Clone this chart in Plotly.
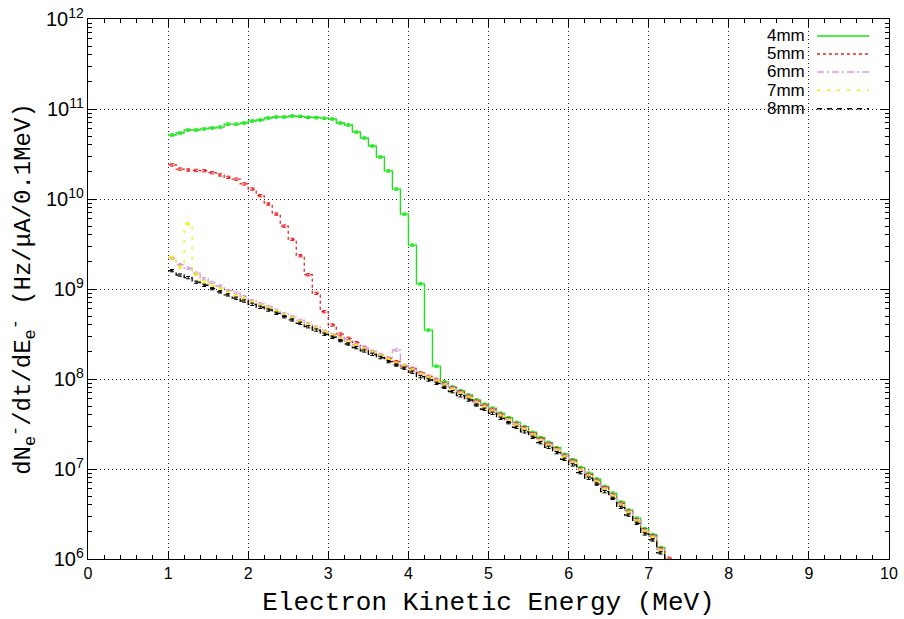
import plotly.graph_objects as go

# bin lower edges (MeV), width 0.1 MeV
bin_edges = [round(1.0 + 0.1 * i, 1) for i in range(64)]

series_names = ["4mm", "5mm", "6mm", "7mm", "8mm"]

y_4mm = [5.14e10, 5.41e10, 5.84e10, 5.84e10, 6.0e10, 6.15e10, 6.3e10, 6.8e10, 6.8e10, 6.99e10,
         7.36e10, 7.55e10, 7.94e10, 8.15e10, 8.15e10, 8.36e10, 8.3e10, 8.1e10, 8.0e10, 7.9e10,
         7.74e10, 6.99e10, 6.64e10, 5.55e10, 4.76e10, 3.88e10, 2.93e10, 2.05e10, 1.29e10, 6.8e9,
         3.08e9, 1.14e9, 3.5e8, 1.39e8, 9.3e7, 8.15e7, 7.4e7, 6.65e7, 5.85e7, 5.25e7,
         4.75e7, 4.17e7, 3.72e7, 3.3e7, 2.95e7, 2.56e7, 2.24e7, 1.98e7, 1.73e7, 1.46e7,
         1.27e7, 1.04e7, 9.0e6, 7.75e6, 6.4e6, 5.4e6, 4.3e6, 3.5e6, 2.85e6, 2.17e6,
         1.86e6, 1.34e6, 9.8e5]

y_5mm = [2.39e10, 2.15e10, 2.10e10, 2.08e10, 2.06e10, 1.96e10, 1.85e10, 1.74e10, 1.66e10, 1.47e10,
         1.29e10, 1.09e10, 8.8e9, 6.8e9, 5.0e9, 3.56e9, 2.34e9, 1.44e9, 8.95e8, 5.6e8,
         3.98e8, 3.16e8, 2.83e8, 2.53e8, 2.25e8, 2.01e8, 1.85e8, 1.70e8, 1.56e8, 1.39e8,
         1.31e8, 1.17e8, 1.07e8, 9.9e7, 8.9e7, 7.95e7, 7.2e7, 6.45e7, 5.68e7, 5.1e7,
         4.6e7, 4.05e7, 3.6e7, 3.2e7, 2.86e7, 2.48e7, 2.17e7, 1.92e7, 1.68e7, 1.42e7,
         1.23e7, 1.0e7, 8.7e6, 7.5e6, 6.2e6, 5.2e6, 4.15e6, 3.4e6, 2.75e6, 2.1e6,
         1.8e6, 1.3e6, 1.02e6]

y_6mm = [2.2e9, 1.87e9, 1.7e9, 1.5e9, 1.3e9, 1.18e9, 1.08e9, 9.6e8, 9.0e8, 8.2e8,
         7.4e8, 6.85e8, 6.35e8, 5.8e8, 5.3e8, 4.9e8, 4.5e8, 4.1e8, 3.78e8, 3.4e8,
         3.13e8, 2.88e8, 2.64e8, 2.4e8, 2.21e8, 2.03e8, 1.87e8, 1.68e8, 2.1e8, 1.42e8,
         1.28e8, 1.14e8, 1.05e8, 9.65e7, 8.7e7, 7.8e7, 7.02e7, 6.3e7, 5.54e7, 4.97e7,
         4.48e7, 3.95e7, 3.52e7, 3.13e7, 2.79e7, 2.42e7, 2.11e7, 1.88e7, 1.64e7, 1.38e7,
         1.2e7, 9.8e6, 8.5e6, 7.3e6, 6.05e6, 5.1e6, 4.05e6, 3.32e6, 2.68e6, 2.05e6,
         1.76e6, 1.26e6, 9.7e5]

y_7mm = [2.25e9, 1.75e9, 5.3e9, 1.45e9, 1.2e9, 1.08e9, 1.0e9, 9.1e8, 8.4e8, 7.8e8,
         7.1e8, 6.6e8, 6.1e8, 5.6e8, 5.15e8, 4.75e8, 4.35e8, 4.0e8, 3.68e8, 3.3e8,
         3.05e8, 2.8e8, 2.57e8, 2.34e8, 2.15e8, 1.97e8, 1.82e8, 1.64e8, 1.5e8, 1.39e8,
         1.25e8, 1.12e8, 1.03e8, 9.4e7, 8.5e7, 7.6e7, 6.85e7, 6.15e7, 5.4e7, 4.85e7,
         4.38e7, 3.85e7, 3.44e7, 3.05e7, 2.72e7, 2.37e7, 2.06e7, 1.83e7, 1.6e7, 1.35e7,
         1.17e7, 9.6e6, 8.3e6, 7.15e6, 5.9e6, 4.95e6, 3.95e6, 3.25e6, 2.62e6, 2.0e6,
         1.72e6, 1.23e6, 9.5e5]

y_8mm = [1.60e9, 1.43e9, 1.34e9, 1.19e9, 1.10e9, 1.01e9, 9.3e8, 8.6e8, 7.9e8, 7.36e8,
         6.76e8, 6.27e8, 5.84e8, 5.37e8, 4.92e8, 4.53e8, 4.16e8, 3.81e8, 3.50e8, 3.14e8,
         2.91e8, 2.67e8, 2.45e8, 2.23e8, 2.05e8, 1.88e8, 1.73e8, 1.56e8, 1.43e8, 1.32e8,
         1.19e8, 1.06e8, 9.75e7, 8.96e7, 8.09e7, 7.23e7, 6.52e7, 5.84e7, 5.14e7, 4.61e7,
         4.16e7, 3.66e7, 3.27e7, 2.90e7, 2.59e7, 2.25e7, 1.96e7, 1.74e7, 1.52e7, 1.28e7,
         1.11e7, 9.1e6, 7.9e6, 6.8e6, 5.6e6, 4.72e6, 3.75e6, 3.08e6, 2.49e6, 1.90e6,
         1.63e6, 1.17e6, 9.0e5]

series_values = [y_4mm, y_5mm, y_6mm, y_7mm, y_8mm]
colors = ["#14e614", "#f02020", "#dd99dd", "#f0f000", "#000000"]
dashes = ["solid", "3px,3px", "7px,3px,2px,3px", "3px,7px", "5px,5px"]

fig = go.Figure()
for name, vals, col, dash in zip(series_names, series_values, colors, dashes):
    n = len(vals)
    xs = bin_edges[: n + 1]
    ys = list(vals) + [vals[-1]]
    fig.add_trace(go.Scatter(x=xs, y=ys, mode="lines", name=name, line_shape="hv",
                             line=dict(color=col, width=1.3, dash=dash), showlegend=False))
    centers = [round(b + 0.05, 2) for b in bin_edges[:n]]
    fig.add_trace(go.Scatter(x=centers, y=vals, mode="markers", marker=dict(size=0.1, color=col),
                             error_y=dict(type="percent", value=3, color=col, thickness=1, width=2),
                             showlegend=False, hoverinfo="skip"))

# manual key (text right-aligned, sample to the right, as in the original)
pw, ph = 801.0, 540.0
def px2paper(xp, yp):
    return (xp - 88) / pw, (559 - yp) / ph

shapes = []
annotations = []
x0b, y0b = px2paper(765, 19)
x1b, y1b = px2paper(879, 117)
shapes.append(dict(type="rect", xref="paper", yref="paper", x0=x0b, x1=x1b, y0=y1b, y1=y0b,
                   fillcolor="white", line=dict(width=0), layer="between"))
rows = [36, 54, 72, 90.3, 108.7]
for name, col, dash, ry in zip(series_names, colors, dashes, rows):
    lx0, ly = px2paper(817, ry)
    lx1, _ = px2paper(869, ry)
    shapes.append(dict(type="line", xref="paper", yref="paper", x0=lx0, x1=lx1, y0=ly, y1=ly,
                       line=dict(color=col, width=1.5, dash=dash), layer="above"))
    tx, _ = px2paper(807, ry)
    annotations.append(dict(xref="paper", yref="paper", x=tx, y=ly, text=name, showarrow=False,
                            xanchor="right", yanchor="middle",
                            font=dict(family="Liberation Sans, Arial", size=17, color="black")))

fig.update_layout(
    width=904, height=619,
    margin=dict(l=88, r=15, t=19, b=60),
    paper_bgcolor="white", plot_bgcolor="white",
    shapes=shapes, annotations=annotations,
    showlegend=False,
    xaxis=dict(range=[0, 10], dtick=1, showgrid=True, gridcolor="#222", griddash="1px,3px", gridwidth=1,
               automargin=False,
               zeroline=False, showline=True, linecolor="black", linewidth=1, mirror="ticks",
               ticks="inside", ticklen=8, tickcolor="black",
               minor=dict(dtick=0.2, ticks="inside", ticklen=4, tickcolor="black", showgrid=False),
               tickfont=dict(family="Liberation Sans Narrow, Liberation Sans, Arial", size=16, color="black"),
               title=dict(text="Electron Kinetic Energy (MeV)", standoff=10,
                          font=dict(family="Liberation Mono, Courier New, monospace", size=26, color="black"))),
    yaxis=dict(type="log", range=[6, 12], dtick=1, exponentformat="power", showexponent="all",
               automargin=False,
               showgrid=True, gridcolor="#222", griddash="1px,3px", gridwidth=1,
               zeroline=False, showline=True, linecolor="black", linewidth=1, mirror="ticks",
               ticks="inside", ticklen=8, tickcolor="black",
               minor=dict(dtick="D1", ticks="inside", ticklen=4, tickcolor="black", showgrid=False),
               tickfont=dict(family="Liberation Sans, Arial", size=16, color="black"),
               title=dict(text="dN<sub>e</sub><sup>-</sup>/dt/dE<sub>e</sub><sup>-</sup> (Hz/μA/0.1MeV)",
                          standoff=8,
                          font=dict(family="Liberation Mono, Courier New, monospace", size=24, color="black"))),
)

fig.write_html("out.html")
